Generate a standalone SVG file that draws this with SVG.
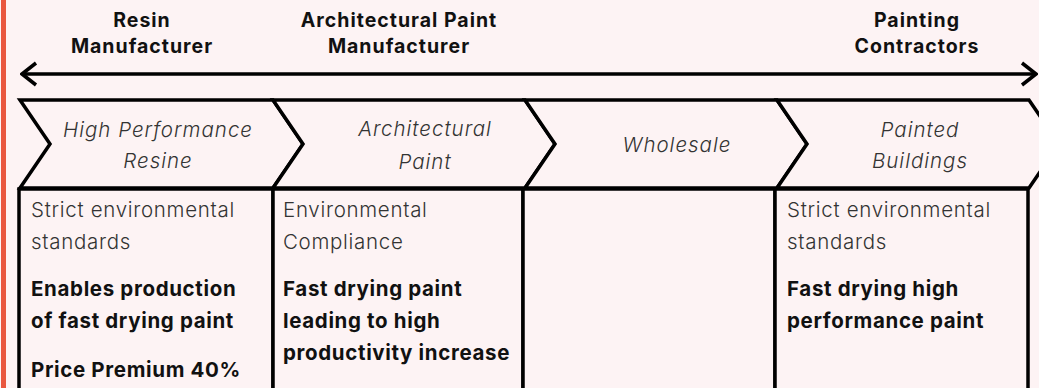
<svg xmlns="http://www.w3.org/2000/svg" width="1039" height="388" viewBox="0 0 1039 388">
<style>
.hdr{font-family:Inter,"Liberation Sans",sans-serif;font-weight:700;font-size:19.5px;letter-spacing:1px;fill:#111;text-anchor:middle}
.chev{fill:#fdf3f4;stroke:#000;stroke-width:3.5;stroke-linejoin:miter}
.ct{font-family:Inter,"Liberation Sans",sans-serif;font-weight:300;font-style:italic;font-size:20.5px;letter-spacing:1px;fill:#333;text-anchor:middle}
.box{fill:#fdf3f4;stroke:#000;stroke-width:3.5}
.lt{font-family:Inter,"Liberation Sans",sans-serif;font-weight:300;font-size:20.5px;letter-spacing:0.7px;fill:#333}
.bd{font-family:Inter,"Liberation Sans",sans-serif;font-weight:700;font-size:20.5px;letter-spacing:0.65px;fill:#111}
.ln{stroke:#000;stroke-width:3.5;fill:none}
</style>
<defs>
<marker id="ah" viewBox="0 0 20 26" refX="18" refY="13" markerWidth="20" markerHeight="26" markerUnits="userSpaceOnUse" orient="auto-start-reverse">
<path d="M4,2 L18,13 L4,24" fill="none" stroke="#000" stroke-width="3.5"/>
</marker>
</defs>
<rect width="1039" height="388" fill="#fdf3f4"/>
<rect x="1" y="0" width="5" height="388" fill="#e9573f"/>
<g id="headers">
<text class="hdr" x="142" y="27">Resin</text>
<text class="hdr" x="142" y="53">Manufacturer</text>
<text class="hdr" x="399" y="27">Architectural Paint</text>
<text class="hdr" x="399" y="53">Manufacturer</text>
<text class="hdr" x="917" y="27">Painting</text>
<text class="hdr" x="917" y="53">Contractors</text>
</g>
<g id="connectors">
<line class="ln" x1="22" y1="74" x2="1036" y2="74" marker-start="url(#ah)" marker-end="url(#ah)"/>
</g>
<g id="node-resin">
<polygon class="chev" points="20,100 273,100 303,144 273,188 20,188 50,144"/>
<text class="ct" x="158" y="137">High Performance</text>
<text class="ct" x="158" y="168">Resine</text>
</g>
<g id="node-paint">
<polygon class="chev" points="273,100 525,100 555,144 525,188 273,188 303,144"/>
<text class="ct" x="425" y="136">Architectural</text>
<text class="ct" x="425" y="169">Paint</text>
</g>
<g id="node-wholesale">
<polygon class="chev" points="525,100 777,100 807,144 777,188 525,188 555,144"/>
<text class="ct" x="677" y="152">Wholesale</text>
</g>
<g id="node-buildings">
<polygon class="chev" points="777,100 1029,100 1059,144 1029,188 777,188 807,144"/>
<text class="ct" x="920" y="137">Painted</text>
<text class="ct" x="920" y="168">Buildings</text>
</g>
<g id="box-resin">
<rect class="box" x="19" y="189" width="254" height="210"/>
<text class="lt" x="31" y="217">Strict environmental</text>
<text class="lt" x="31" y="249">standards</text>
<text class="bd" x="31" y="296">Enables production</text>
<text class="bd" x="31" y="328">of fast drying paint</text>
<text class="bd" x="31" y="377">Price Premium 40%</text>
</g>
<g id="box-paint">
<rect class="box" x="273" y="189" width="250" height="210"/>
<text class="lt" x="283" y="217">Environmental</text>
<text class="lt" x="283" y="249">Compliance</text>
<text class="bd" x="283" y="296">Fast drying paint</text>
<text class="bd" x="283" y="328">leading to high</text>
<text class="bd" x="283" y="360">productivity increase</text>
</g>
<g id="box-wholesale">
<rect class="box" x="523" y="189" width="252" height="210"/>
</g>
<g id="box-buildings">
<rect class="box" x="775" y="189" width="253" height="210"/>
<text class="lt" x="787" y="217">Strict environmental</text>
<text class="lt" x="787" y="249">standards</text>
<text class="bd" x="787" y="296">Fast drying high</text>
<text class="bd" x="787" y="328">performance paint</text>
</g>
</svg>
